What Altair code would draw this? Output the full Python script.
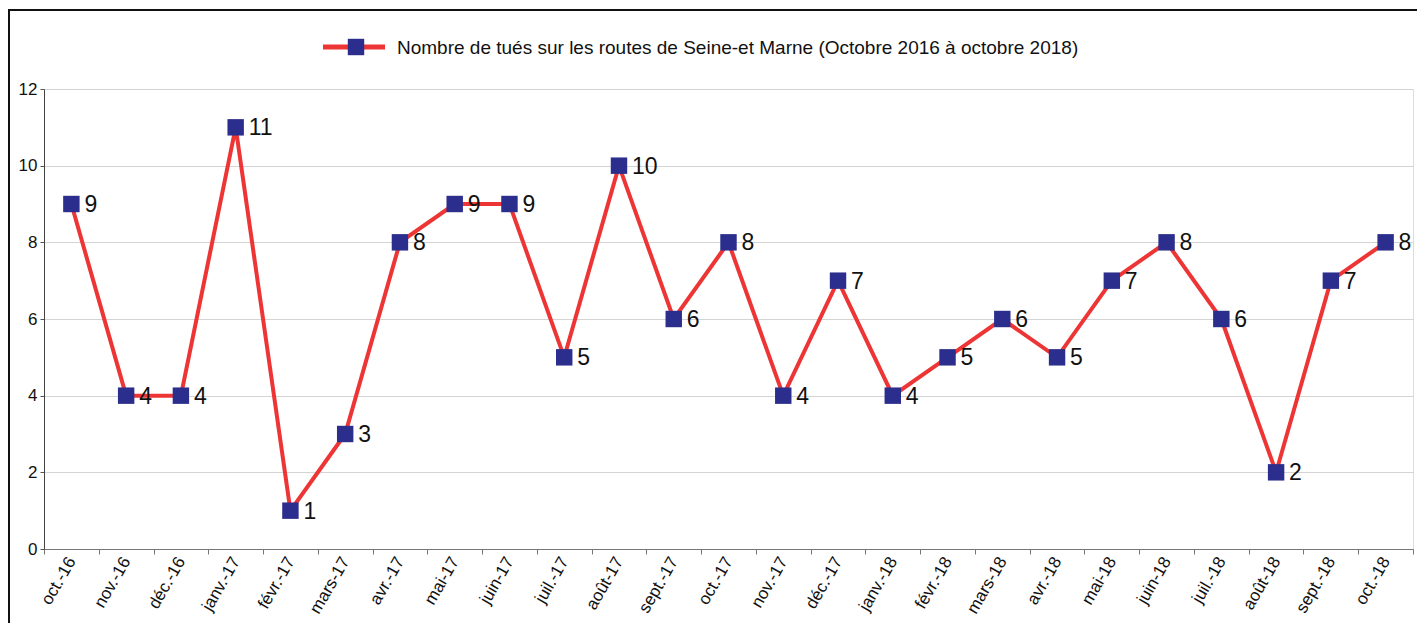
import altair as alt
import pandas as pd

months = ["oct.-16", "nov.-16", "déc.-16", "janv.-17", "févr.-17", "mars-17", "avr.-17",
          "mai-17", "juin-17", "juil.-17", "août-17", "sept.-17", "oct.-17", "nov.-17",
          "déc.-17", "janv.-18", "févr.-18", "mars-18", "avr.-18", "mai-18", "juin-18",
          "juil.-18", "août-18", "sept.-18", "oct.-18"]
deaths = [9, 4, 4, 11, 1, 3, 8, 9, 9, 5, 10, 6, 8, 4, 7, 4, 5, 6, 5, 7, 8, 6, 2, 7, 8]
series_name = "Nombre de tués sur les routes de Seine-et Marne (Octobre 2016 à octobre 2018)"

df = pd.DataFrame({"mois": months, "tues": deaths})

W, H = 1369, 460
FONT = "Liberation Sans"
RED = "#ee3535"
NAVY = "#2b2e8c"

x = alt.X("mois:N", sort=months, title=None,
          scale=alt.Scale(type="band", paddingInner=0, paddingOuter=0),
          axis=alt.Axis(labelAngle=-60, labelAlign="right", labelBaseline="middle",
                        labelFontSize=17, labelFont=FONT, labelColor="#111",
                        tickBand="extent", ticks=True, tickSize=5, tickColor="#777",
                        domainColor="#777", grid=False, labelPadding=4))
y = alt.Y("tues:Q", title=None,
          scale=alt.Scale(domain=[0, 12], nice=False),
          axis=alt.Axis(values=[0, 2, 4, 6, 8, 10, 12], labelFontSize=17, labelFont=FONT,
                        labelColor="#111", tickSize=4, tickColor="#555", domainColor="#444",
                        gridColor="#d4d4d4", gridWidth=1.2, labelPadding=3))

base = alt.Chart(df)
line = base.mark_line(color=RED, strokeWidth=4).encode(x=x, y=y)
pts = base.mark_square(color=NAVY, opacity=1, size=270).encode(x=x, y=y)
labels = base.mark_text(align="left", baseline="middle", dx=13, dy=1, fontSize=23, font=FONT,
                        color="#111").encode(x=x, y=y, text="tues:Q")

# legend (decoration)
leg_df = pd.DataFrame({"name": [series_name]})
leg = alt.Chart(leg_df)
leg_line = leg.mark_rule(color=RED, strokeWidth=5).encode(
    x=alt.value(279), x2=alt.value(341), y=alt.value(-42))
leg_sq = leg.mark_square(color=NAVY, opacity=1, size=270).encode(
    x=alt.value(312), y=alt.value(-42))
leg_txt = leg.mark_text(align="left", baseline="middle", fontSize=19, font=FONT,
                        color="#111").encode(x=alt.value(353), y=alt.value(-41), text="name:N")
frame = leg.mark_rect(fill=None, stroke="#111", strokeWidth=2).encode(
    x=alt.value(-35), x2=alt.value(W + 40), y=alt.value(-79), y2=alt.value(H + 200))

chart = alt.layer(line, pts, labels, leg_line, leg_sq, leg_txt, frame).properties(
    width=W, height=H,
    autosize=alt.AutoSizeParams(type="none"),
    padding={"left": 36, "top": 81, "right": 4, "bottom": 74},
).configure_view(stroke="#999", strokeWidth=1.2).configure(background="white")

chart.save("out.html", embed_options={"renderer": "svg", "actions": False})
